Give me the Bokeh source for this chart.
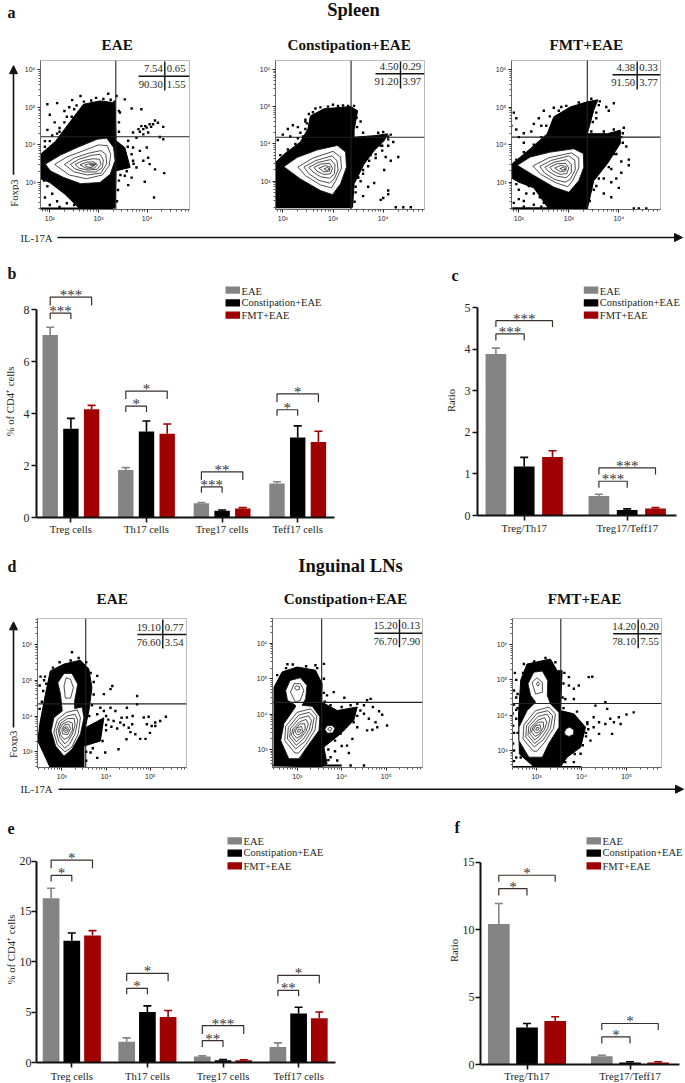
from math import log10, pi
from bokeh.embed import file_html
from bokeh.resources import INLINE
from bokeh.plotting import figure
from bokeh.layouts import column, row
from bokeh.models import (Range1d, Arrow, NormalHead, FixedTicker, Whisker, TeeHead,
                          ColumnDataSource)
from bokeh.core.properties import value

SERIES = ["EAE", "Constipation+EAE", "FMT+EAE"]
COLORS = ["#848484", "#000000", "#a00000"]
SERIF = "Liberation Serif"
SANS = "Liberation Sans"
INK = "#231f20"

# ---------- bar data ----------
B_GROUPS = ["Treg cells", "Th17 cells", "Treg17 cells", "Teff17 cells"]
B_VALUES = [[7.03, 1.83, 0.55, 1.31], [3.42, 3.31, 0.26, 3.08], [4.17, 3.23, 0.35, 2.91]]
B_UPPER = [[7.33, 1.92, 0.58, 1.38], [3.82, 3.72, 0.29, 3.53], [4.32, 3.60, 0.38, 3.32]]
B_BRACKETS = [(0, 0, 1, 7.87, 7.65, "***"), (0, 0, 2, 8.49, 8.17, "***"),
              (1, 0, 1, 4.29, 4.06, "*"), (1, 0, 2, 4.87, 4.56, "*"),
              (2, 0, 1, 1.18, 0.95, "***"), (2, 0, 2, 1.76, 1.44, "**"),
              (3, 0, 1, 4.15, 3.92, "*"), (3, 0, 2, 4.76, 4.44, "*")]

C_GROUPS = ["Treg/Th17", "Treg17/Teff17"]
C_VALUES = [[3.89, 0.47], [1.18, 0.13], [1.41, 0.17]]
C_UPPER = [[4.03, 0.51], [1.40, 0.16], [1.56, 0.19]]
C_BRACKETS = [(0, 0, 1, 4.37, 4.21, "***"), (0, 0, 2, 4.69, 4.54, "***"),
              (1, 0, 1, 0.825, 0.67, "***"), (1, 0, 2, 1.146, 0.986, "***")]

E_VALUES = [[16.3, 2.05, 0.60, 1.55], [12.1, 5.02, 0.23, 4.86], [12.6, 4.53, 0.23, 4.40]]
E_UPPER = [[17.3, 2.45, 0.66, 1.95], [12.86, 5.62, 0.30, 5.49], [13.1, 5.16, 0.28, 5.02]]
E_BRACKETS = [(0, 0, 1, 18.58, 17.98, "*"), (0, 0, 2, 20.1, 19.3, "*"),
              (1, 0, 1, 7.37, 6.78, "*"), (1, 0, 2, 8.86, 8.06, "*"),
              (2, 0, 1, 2.18, 1.55, "**"), (2, 0, 2, 3.67, 2.84, "***"),
              (3, 0, 1, 7.17, 6.58, "**"), (3, 0, 2, 8.66, 7.84, "*")]

F_VALUES = [[10.42, 0.62], [2.75, 0.15], [3.22, 0.15]]
F_UPPER = [[11.93, 0.69], [3.04, 0.20], [3.54, 0.20]]
F_BRACKETS = [(0, 0, 1, 13.04, 12.52, "*"), (0, 0, 2, 14.03, 13.54, "*"),
              (1, 0, 1, 2.05, 1.56, "*"), (1, 0, 2, 3.04, 2.55, "*")]

# ---------- flow cytometry: quadrant percentages ----------
A_PCT = [["7.54", "0.65", "90.30", "1.55"], ["4.50", "0.29", "91.20", "3.97"], ["4.38", "0.33", "91.50", "3.77"]]
D_PCT = [["19.10", "0.77", "76.60", "3.54"], ["15.20", "0.13", "76.70", "7.90"], ["14.20", "0.20", "78.10", "7.55"]]
A_GATES = [(3.355, 4.215), (3.36, 4.18), (3.37, 4.20)]
D_GATES = [(3.54, 4.34), (3.55, 4.33), (3.54, 4.33)]

# flow: dense event regions, single events (log10 units), density contours
A1_CLOUD = [(2.6,2.32),(2.3,2.7),(2.0,3.0),(1.81,3.1),(1.81,3.75),(2.12,4.1),(2.35,4.5),(2.69,5.08),(3.03,5.17),(3.34,5.12),(3.36,4.11),(3.54,3.93),(3.65,3.4),(3.36,3.31),(3.34,2.32)]
A1_DOTS = [(3.71,4.33),(3.82,4.42),(3.88,4.5),(3.99,4.46),(4.05,4.55),(4.16,4.65),(4.22,4.59),(4.33,4.48),(3.78,4.19),(3.92,4.28),(4.02,4.33),(4.26,4.21),(4.33,4.15),
           (3.92,4.42),(3.96,4.5),(4.08,4.48),(4.12,4.55),(3.85,4.35),(3.54,5.21),(3.68,4.97),(3.88,4.95),(3.44,4.86),(3.61,4.11),(3.71,3.93),(3.85,3.84),(3.99,3.93),(4.02,3.66),(3.92,3.58),(3.71,3.58),(3.78,3.4),(4.05,3.49),(4.16,3.35),(4.35,3.25),(3.54,3.18),(3.68,3.13),(3.61,2.93),(3.95,3.02),(4.14,2.6),
           (1.95,5.08),(2.15,5.11),(2.46,5.19),(2.63,5.3),(3.2,5.36),(3.37,5.3),(2.0,4.8),(2.1,4.6),(1.95,4.4),(2.2,4.35),(2.3,4.9),(2.4,5.0),(1.9,4.1),
           (1.95,2.9),(2.05,2.7),(2.15,2.5),(2.25,2.8),(2.35,2.45),(2.45,2.6),(2.2,2.35),(2.0,2.4),(1.9,2.6),(2.5,2.4),(2.1,2.95),
           (1.9,3.95),(2.0,4.1),(2.05,4.25),(2.15,4.3),(2.2,4.45),(2.3,4.6),(2.35,4.75),(2.45,4.75),(2.5,4.95),(2.55,5.05),(2.7,5.15),(2.85,5.18),(2.95,5.25),(3.1,5.22),(3.25,5.2),(3.33,5.15),(3.42,4.9),(3.42,4.6),(3.42,4.35),(3.6,3.95),(3.68,3.75),(3.72,3.5),(3.58,3.3),(3.45,3.2),(3.42,3.05),(3.4,2.8),(3.38,2.5),(2.55,2.5),(2.4,2.7),(2.2,2.85),(2.0,3.05),(1.88,3.05)]
A1_CONTOURS = [[(1.91,3.49),(2.22,3.73),(2.56,3.93),(2.97,4.15),(3.17,4.18),(3.31,3.93),(3.34,3.58),(3.24,3.22),(3.03,3.0),(2.63,2.97),(2.29,3.13),(2.01,3.31)],
               [(2.1,3.48),(2.35,3.68),(2.7,3.85),(3.0,4.0),(3.18,3.98),(3.25,3.75),(3.22,3.45),(3.08,3.2),(2.75,3.1),(2.4,3.2)],
               [(2.3,3.48),(2.5,3.65),(2.8,3.78),(3.05,3.85),(3.15,3.75),(3.17,3.5),(3.05,3.25),(2.78,3.2),(2.5,3.28)],
               [(2.42,3.48),(2.6,3.62),(2.85,3.72),(3.03,3.75),(3.1,3.6),(3.08,3.4),(2.95,3.28),(2.72,3.28),(2.52,3.36)],
               [(2.52,3.48),(2.68,3.58),(2.88,3.63),(3.02,3.62),(3.05,3.48),(2.97,3.35),(2.78,3.33),(2.6,3.38)],
               [(2.62,3.47),(2.75,3.54),(2.9,3.55),(2.98,3.48),(2.92,3.38),(2.75,3.38)],
               [(2.72,3.47),(2.82,3.5),(2.92,3.47),(2.85,3.4),(2.75,3.42)],
               [(2.82,3.48),(2.88,3.5),(2.95,3.49),(2.9,3.44),(2.84,3.45)]]
A2_CLOUD = [(1.85,2.3),(1.85,3.5),(2.05,3.75),(2.35,4.05),(2.5,4.4),(2.55,4.75),(2.82,4.94),(3.35,5.0),(3.49,4.89),(3.42,4.36),(3.42,4.18),(3.82,4.22),(4.09,4.27),(4.02,4.09),(3.82,3.82),(3.62,3.46),(3.42,2.93),(3.39,2.3)]
A2_DOTS = [(2.1,4.4),(2.2,4.5),(2.3,4.45),(2.35,4.3),(2.15,4.2),(2.45,4.65),(2.48,4.55),(2.3,4.15),(2.0,4.25),(1.9,4.1),(2.6,4.85),(2.75,4.98),(3.0,5.05),(3.2,5.03),(3.3,5.02),
           (3.75,3.7),(3.85,3.62),(3.7,3.4),(3.6,3.2),(3.55,3.0),(3.7,2.85),(3.98,3.82),(4.05,3.65),(4.15,3.55),(4.3,3.65),(4.02,3.3),(4.1,2.75),(4.1,2.65),(3.95,2.5),(3.45,2.85),(3.5,3.1),(4.1,4.2),(4.15,4.25),(4.2,4.05),(4.1,3.95),(3.95,3.95),(3.55,4.6),(3.82,2.95),(3.6,2.6),(4.0,2.55),(4.25,2.3),(4.4,2.3),(4.55,2.3),
           (1.95,3.7),(2.1,3.85),(2.25,4.0),(2.4,4.2),(2.45,4.4),(2.45,4.6),(2.52,4.8),(2.65,4.95),(2.9,5.0),(3.1,5.02),(3.42,5.02),(3.47,4.7),(3.48,4.45),(3.6,4.3),(3.9,4.3),(4.0,4.32),(4.1,4.12),(3.98,3.95),(3.85,3.72),(3.72,3.55),(3.6,3.3),(3.5,3.1),(3.45,2.7),(3.43,2.45)]
A2_CONTOURS = [[(2.02,3.39),(2.29,3.64),(2.69,3.84),(3.09,3.96),(3.25,3.78),(3.27,3.38),(3.15,2.93),(2.99,2.64),(2.75,2.75),(2.35,3.06)],
               [(2.3,3.38),(2.6,3.62),(3.0,3.8),(3.15,3.65),(3.17,3.35),(3.05,3.0),(2.97,2.82),(2.75,2.9),(2.45,3.15)],
               [(2.42,3.38),(2.65,3.55),(2.98,3.68),(3.08,3.55),(3.1,3.3),(3.02,3.05),(2.93,2.95),(2.72,3.02),(2.52,3.2)],
               [(2.52,3.37),(2.7,3.5),(2.95,3.58),(3.04,3.45),(3.03,3.2),(2.93,3.08),(2.75,3.12),(2.6,3.25)],
               [(2.62,3.37),(2.76,3.46),(2.93,3.48),(2.99,3.35),(2.95,3.2),(2.82,3.18),(2.68,3.27)],
               [(2.72,3.35),(2.85,3.42),(2.94,3.38),(2.93,3.27),(2.82,3.25)],
               [(2.82,3.33),(2.89,3.37),(2.93,3.32),(2.87,3.29)]]
A3_CLOUD = [(2.6,2.29),(2.3,2.85),(2.0,3.0),(1.87,3.1),(1.87,3.49),(2.23,3.89),(2.57,4.29),(2.7,4.74),(3.03,5.0),(3.37,5.14),(3.58,5.19),(3.5,4.92),(3.37,4.29),(3.77,4.29),(4.03,4.38),(4.03,4.03),(3.77,3.49),(3.5,3.04),(3.37,2.29)]
A3_DOTS = [(1.95,4.4),(2.0,4.2),(2.1,4.3),(2.25,4.35),(2.3,4.55),(2.4,4.7),(2.45,4.5),(2.5,4.9),(2.7,4.98),(2.85,5.0),(2.1,4.05),(1.9,4.85),(1.95,4.7),(1.85,4.5),
           (3.6,5.05),(3.75,5.0),(3.8,4.9),(3.9,5.1),(3.55,4.7),(4.0,4.35),(4.1,4.45),(4.05,4.2),(4.15,3.95),(3.95,3.75),(4.05,3.55),(4.2,3.45),(3.85,3.35),(3.7,3.1),(3.85,3.0),(3.95,3.1),(3.55,2.9),(3.7,2.7),(3.85,2.6),(4.0,2.85),(4.05,3.25),(4.2,3.6),(4.3,2.3),(4.4,2.3),(4.55,2.3),
           (2.0,2.8),(2.1,2.5),(2.3,2.7),(2.5,2.45),(2.2,2.9),(2.7,2.55),(3.0,2.5),(1.9,2.45),(2.0,2.55),(2.15,2.7),(2.3,2.4),(2.42,2.6),(2.6,2.4),(1.95,2.95),(2.1,2.35),(2.45,2.35),
           (1.95,3.6),(2.1,3.8),(2.3,4.0),(2.45,4.2),(2.55,4.5),(2.62,4.75),(2.8,4.9),(2.95,5.03),(3.2,5.12),(3.45,5.22),(3.62,5.15),(3.55,4.85),(3.48,4.6),(3.45,4.35),(3.7,4.35),(3.9,4.4),(4.08,4.3),(4.08,4.05),(3.9,3.75),(3.8,3.4),(3.6,3.1),(3.5,2.8),(3.42,2.5)]
A3_CONTOURS = [[(1.97,3.45),(2.23,3.67),(2.63,3.8),(3.1,3.89),(3.29,3.76),(3.3,3.4),(3.2,3.04),(3.0,2.73),(2.7,2.87),(2.3,3.18)],
               [(2.28,3.43),(2.6,3.65),(3.05,3.78),(3.2,3.65),(3.2,3.38),(3.08,3.05),(2.98,2.88),(2.75,2.98),(2.45,3.2)],
               [(2.42,3.42),(2.65,3.58),(3.0,3.7),(3.12,3.58),(3.13,3.33),(3.03,3.08),(2.93,3.0),(2.72,3.07),(2.52,3.24)],
               [(2.52,3.4),(2.7,3.53),(2.96,3.6),(3.05,3.48),(3.05,3.25),(2.95,3.12),(2.76,3.16),(2.6,3.28)],
               [(2.62,3.4),(2.76,3.49),(2.94,3.5),(3.0,3.38),(2.96,3.23),(2.83,3.21),(2.68,3.3)],
               [(2.72,3.38),(2.85,3.45),(2.95,3.41),(2.94,3.3),(2.83,3.28)],
               [(2.82,3.36),(2.89,3.4),(2.94,3.35),(2.87,3.32)]]
D1_CLOUD = [(2.74,2.55),(2.46,3.3),(2.5,3.76),(2.63,4.6),(2.74,5.26),(3.05,5.45),(3.42,5.56),(3.61,5.31),(3.68,4.79),(3.61,4.14),(3.53,3.67),(3.95,3.95),(3.87,3.3),(3.5,3.16),(3.5,2.55)]
D1_DOTS = [(3.87,4.23),(3.95,4.14),(4.1,4.23),(4.21,4.14),(4.47,4.23),(4.7,4.56),(4.7,4.33),(4.14,4.84),(4.1,4.75),(3.95,4.61),(3.8,5.12),(3.23,5.78),
           (4.17,3.86),(4.32,3.82),(4.47,3.96),(4.59,3.77),(4.66,3.49),(4.51,3.67),(4.85,3.96),(4.96,3.98),(4.92,3.77),(5.11,3.82),(5.22,3.86),(5.35,3.98),(5.03,3.72),(5.11,3.72),(4.77,3.36),(4.89,3.36),(4.99,3.53),(4.46,3.35),(4.28,3.07),(3.8,2.83),(3.98,2.98),(3.65,2.98),
           (4.05,3.9),(4.0,3.75),(4.12,3.7),(4.25,3.65),(4.35,3.95),(4.4,3.75),(4.55,3.55),(4.6,4.0),(2.52,5.1),(2.6,5.0),(2.5,4.85),(2.65,4.9),(2.55,4.4),(2.62,4.2),
           (2.5,4.2),(2.58,4.7),(2.62,5.1),(2.8,5.35),(2.95,5.5),(3.2,5.55),(3.38,5.62),(3.55,5.5),(3.65,5.2),(3.72,4.95),(3.72,4.6),(3.68,4.3),(3.62,4.0),(3.8,4.05),(4.0,4.0),(4.0,3.6),(3.92,3.3),(3.7,3.1),(3.55,3.0),(3.55,2.75)]
D1_CONTOURS = [[(3.05,2.88),(2.86,3.16),(2.76,3.58),(2.82,3.95),(3.01,4.14),(2.97,4.61),(2.91,4.93),(3.05,5.19),(3.23,5.19),(3.36,4.89),(3.29,4.42),(3.29,4.21),(3.46,4.25),(3.5,3.95),(3.42,3.49),(3.23,3.07)],
               [(3.05,4.84),(3.1,5.07),(3.2,5.02),(3.26,4.79),(3.2,4.5),(3.08,4.5)],
               [(3.07,3.0),(2.9,3.2),(2.82,3.55),(2.9,3.9),(3.1,4.1),(3.35,4.17),(3.42,3.95),(3.37,3.5),(3.22,3.12)],
               [(3.07,3.1),(2.93,3.3),(2.87,3.58),(2.95,3.85),(3.12,4.0),(3.3,4.05),(3.36,3.88),(3.3,3.5),(3.18,3.22)],
               [(3.07,3.22),(2.96,3.4),(2.92,3.6),(2.98,3.8),(3.13,3.93),(3.28,3.93),(3.3,3.75),(3.24,3.5),(3.15,3.32)],
               [(3.05,3.35),(2.97,3.48),(2.95,3.62),(3.02,3.78),(3.15,3.85),(3.24,3.8),(3.24,3.6),(3.15,3.4)],
               [(3.02,3.5),(3.0,3.62),(3.06,3.75),(3.15,3.77),(3.2,3.65),(3.13,3.48)],
               [(3.04,3.58),(3.05,3.68),(3.12,3.7),(3.16,3.62),(3.1,3.53)],
               [(3.06,3.62),(3.09,3.66),(3.13,3.62),(3.09,3.59)]]
D2_CLOUD = [(2.48,2.55),(2.48,4.76),(2.66,5.19),(3.0,5.33),(3.41,5.24),(3.56,4.86),(3.55,4.34),(3.9,4.1),(4.35,4.2),(4.27,3.82),(3.97,3.44),(3.6,3.07),(3.67,2.59),(3.52,2.5)]
D2_DOTS = [(3.6,5.42),(3.41,5.38),(2.78,5.41),(3.82,4.62),(3.67,4.53),(4.06,4.46),(4.65,4.43),(4.57,4.39),(4.35,4.29),(4.84,4.08),(4.91,3.98),(4.5,4.01),(4.61,3.87),(4.76,3.77),(4.57,3.54),(4.69,3.56),(5.02,3.68),(4.8,3.63),(4.35,3.63),(4.24,3.3),(4.12,3.11),(4.16,2.9),(3.9,2.69),(4.5,2.55),(4.2,2.55),(3.97,3.44),(3.75,2.78),(3.56,2.59),(4.05,3.58),(4.27,3.77),(4.42,4.1),(4.5,4.25),(4.7,4.2),(4.0,3.1),(3.85,2.95),
           (2.55,5.1),(2.75,5.3),(2.9,5.4),(3.2,5.35),(3.45,5.3),(3.6,5.0),(3.6,4.6),(3.62,4.35),(3.75,4.25),(4.0,4.2),(4.2,4.25),(4.35,3.95),(4.1,3.65),(3.85,3.25),(3.7,3.0),(3.7,2.7)]
D2_CONTOURS = [[(2.74,4.67),(2.84,4.95),(3.07,5.03),(3.22,4.81),(3.19,4.43),(3.11,4.25),(3.34,4.22),(3.51,3.92),(3.49,3.54),(3.22,3.07),(3.04,2.74),(2.81,2.74),(2.63,3.25),(2.7,3.73),(2.96,4.2),(2.96,4.25),(2.78,4.39)],
               [(2.85,4.62),(2.93,4.86),(3.07,4.86),(3.15,4.67),(3.07,4.39),(2.96,4.34)],
               [(2.94,4.74),(2.98,4.8),(3.05,4.78),(3.05,4.7),(2.98,4.68)],
               [(2.95,2.9),(2.72,3.25),(2.74,3.65),(3.0,4.05),(3.3,4.15),(3.44,3.95),(3.4,3.55),(3.2,3.15),(3.03,2.9)],
               [(2.97,3.02),(2.78,3.3),(2.8,3.62),(3.03,3.97),(3.27,4.05),(3.38,3.9),(3.33,3.55),(3.17,3.22)],
               [(2.98,3.12),(2.83,3.35),(2.85,3.6),(3.05,3.88),(3.25,3.95),(3.32,3.82),(3.27,3.55),(3.13,3.28)],
               [(2.98,3.22),(2.87,3.4),(2.9,3.58),(3.05,3.78),(3.2,3.85),(3.25,3.72),(3.2,3.52),(3.08,3.32)],
               [(2.99,3.32),(2.91,3.44),(2.94,3.58),(3.06,3.72),(3.17,3.73),(3.18,3.58),(3.08,3.38)],
               [(3.0,3.42),(2.95,3.5),(3.0,3.62),(3.1,3.65),(3.12,3.52),(3.05,3.42)],
               [(3.0,3.5),(3.03,3.58),(3.08,3.56),(3.05,3.49)]]
D2_SMALL = [[(3.62,3.57),(3.67,3.67),(3.78,3.68),(3.85,3.6),(3.8,3.47),(3.68,3.46)],
            [(3.68,3.57),(3.73,3.63),(3.78,3.6),(3.75,3.52)]]
D3_CLOUD = [(2.95,2.53),(2.62,2.9),(2.6,4.0),(2.65,5.0),(2.79,5.45),(3.31,5.59),(3.46,5.26),(3.57,5.26),(3.53,4.13),(3.83,4.04),(4.09,3.66),(3.98,3.09),(3.68,2.81),(3.53,2.53)]
D3_DOTS = [(3.72,5.08),(3.94,4.84),(3.72,4.84),(3.83,4.75),(4.16,5.08),(4.24,5.09),(3.64,4.46),(3.83,4.46),(4.53,4.37),(4.31,4.27),(4.57,4.18),(5.16,4.08),(5.0,4.02),(4.83,3.94),(4.64,3.9),(4.87,3.75),(4.72,3.8),(4.53,3.75),(4.39,3.8),(4.27,3.94),(4.27,3.66),(4.68,3.47),(4.39,3.47),(4.2,3.28),(4.13,3.75),(3.98,2.91),(3.83,2.67),(3.64,2.67),
           (2.55,5.0),(2.5,4.7),(2.5,4.3),(2.55,4.5),(2.55,3.9),(2.5,3.0),(2.55,2.8),(2.5,3.5),(2.52,5.2),(2.48,3.2),(2.5,2.7),(2.55,4.15),(2.47,4.05),(2.48,3.7),(2.9,2.7),(3.8,3.0),(4.15,3.6),(4.1,3.4),
           (2.7,5.2),(2.72,5.45),(2.95,5.52),(3.2,5.62),(3.42,5.5),(3.62,5.2),(3.6,4.9),(3.58,4.5),(3.6,4.2),(3.9,4.1),(4.13,3.8),(4.1,3.5),(4.03,3.15),(3.85,2.9),(3.6,2.7),(2.58,4.6),(2.58,4.2),(2.58,3.5),(2.65,2.8)]
D3_CONTOURS = [[(2.81,4.89),(2.94,5.22),(3.13,5.25),(3.25,4.98),(3.24,4.56),(3.31,4.32),(3.5,4.08),(3.5,3.66),(3.27,3.19),(3.13,2.81),(2.83,2.81),(2.61,3.28),(2.61,3.66),(2.79,4.13),(2.98,4.37),(2.87,4.56)],
               [(2.9,4.93),(3.01,5.06),(3.13,4.93),(3.13,4.65),(2.98,4.6)],
               [(3.0,4.88),(3.03,4.95),(3.07,4.9),(3.03,4.82)],
               [(2.93,2.98),(2.7,3.33),(2.72,3.73),(2.98,4.13),(3.28,4.23),(3.42,4.03),(3.38,3.63),(3.18,3.23),(3.01,2.98)],
               [(2.95,3.1),(2.76,3.38),(2.78,3.7),(3.01,4.05),(3.25,4.13),(3.36,3.98),(3.31,3.63),(3.15,3.3)],
               [(2.96,3.2),(2.81,3.43),(2.83,3.68),(3.03,3.96),(3.23,4.03),(3.3,3.9),(3.25,3.63),(3.11,3.36)],
               [(2.96,3.3),(2.85,3.48),(2.88,3.66),(3.03,3.86),(3.18,3.93),(3.23,3.8),(3.18,3.6),(3.06,3.4)],
               [(2.97,3.4),(2.89,3.52),(2.92,3.66),(3.04,3.8),(3.15,3.81),(3.16,3.66),(3.06,3.46)],
               [(2.98,3.5),(2.93,3.58),(2.98,3.7),(3.08,3.73),(3.1,3.6),(3.03,3.5)],
               [(2.98,3.58),(3.01,3.66),(3.06,3.64),(3.03,3.57)]]
D3_SMALL = [[(3.62,3.52),(3.66,3.62),(3.74,3.66),(3.83,3.58),(3.82,3.45),(3.72,3.4),(3.64,3.44)]]


def text_fig(x0, x1, y0, y1, texts, arrow=None):
    """A strip of the page for headings and side labels; its coordinates are page pixels."""
    p = figure(width=x1 - x0, height=y1 - y0, x_range=Range1d(x0, x1), y_range=Range1d(y1, y0),
               x_axis_location=None, y_axis_location=None, toolbar_location=None,
               output_backend="svg", min_border=0, outline_line_color=None)
    p.xgrid.visible = False
    p.ygrid.visible = False
    for (t, x, y, size, bold, align, ang) in texts:
        p.text([x], [y], text=[t], text_font=value(SERIF), text_font_size=f"{size}px",
               text_font_style="bold" if bold else "normal", text_align=align, angle=ang,
               text_baseline="middle", text_color=INK if not bold else "#111111")
    if arrow:
        ax0, ay0, ax1, ay1 = arrow
        p.add_layout(Arrow(x_start=ax0, y_start=ay0, x_end=ax1, y_end=ay1, line_width=1.6, line_color="#111111",
                           end=NormalHead(size=8, fill_color="#111111", line_color="#111111")))
    return p


def closed(points):
    return [q[0] for q in points] + [points[0][0]], [q[1] for q in points] + [points[0][1]]


def flow_panel(canvas, frame, xt, xdec, yt, ydec, gates, pct, table, cloud, dots, contours,
               xmajor, small=(), band=None):
    cx0, cx1, cy0, cy1 = canvas
    fx0, fx1, fy0, fy1 = frame
    xpx, xlog = xt
    ypx, ylog = yt
    lx = lambda px: xlog + (px - xpx) / xdec
    ly = lambda py: ylog + (ypx - py) / ydec
    p = figure(frame_width=fx1 - fx0, frame_height=fy1 - fy0,
               x_range=Range1d(lx(fx0), lx(fx1)), y_range=Range1d(ly(fy1), ly(fy0)),
               toolbar_location=None, output_backend="svg",
               min_border_left=fx0 - cx0, min_border_right=cx1 - fx1,
               min_border_top=fy0 - cy0, min_border_bottom=cy1 - fy1,
               outline_line_color="#bbbbbb", outline_line_width=1)
    p.grid.visible = False
    sup = {2: "10²", 3: "10³", 4: "10⁴", 5: "10⁵", 6: "10⁶"}
    ymajor = [3, 4, 5, 6]
    for ax, major in ((p.xaxis[0], xmajor), (p.yaxis[0], ymajor)):
        minor = [k + log10(m) for k in range(1, 7) for m in range(2, 10)]
        ax.ticker = FixedTicker(ticks=major, minor_ticks=minor)
        ax.major_label_overrides = {m: sup[m] for m in major}
        ax.major_label_text_font = SANS
        ax.major_label_text_font_size = "7px"
        ax.major_label_text_color = "#222222"
        ax.major_tick_out = 3
        ax.major_tick_in = 0
        ax.minor_tick_out = 2
        ax.minor_tick_in = 0
        ax.major_tick_line_color = "#222222"
        ax.minor_tick_line_color = "#555555"
        ax.axis_line_color = "#666666"
        ax.major_label_standoff = 2
    p.yaxis[0].major_label_orientation = "horizontal"

    xs, ys = closed(cloud)
    p.patch(xs, ys, fill_color="#000000", line_color="#000000", line_width=1)
    p.scatter([d[0] for d in dots], [d[1] for d in dots], marker="square", size=2.4,
              fill_color="#000000", line_color=None)
    if band:
        p.segment([band[0]], [band[2]], [band[1]], [band[2]], line_color="#000000", line_width=2)
    outer_x, outer_y = closed(contours[0])
    p.patch(outer_x, outer_y, fill_color="#ffffff", line_color="#111111", line_width=0.9)
    rings = [closed(c) for c in contours[1:]]
    p.multi_line([r[0] for r in rings], [r[1] for r in rings], line_color="#222222", line_width=0.8)
    if small:
        sx, sy = closed(small[0])
        p.patch(sx, sy, fill_color="#ffffff", line_color="#111111", line_width=0.8)
        if len(small) > 1:
            sx, sy = closed(small[1])
            p.line(sx, sy, line_color="#222222", line_width=0.8)

    gx, gy = gates
    p.line([gx, gx], [ly(fy1), ly(fy0)], line_color="#222222", line_width=1.1)
    p.line([lx(fx0), lx(fx1)], [gy, gy], line_color="#222222", line_width=1.1)

    dvx, hly, hx0, vend = table
    p.line([lx(dvx), lx(dvx)], [ly(fy0 + 1), ly(vend)], line_color="#111111", line_width=1.4)
    p.line([lx(hx0), lx(fx1)], [ly(hly), ly(hly)], line_color="#111111", line_width=1.4)
    for i, t in enumerate(pct):
        right = i % 2 == 1
        lower = i >= 2
        p.text([lx(dvx + (2 if right else -2))], [ly(hly + (8 if lower else -7.5))], text=[t],
               text_font=value(SERIF), text_font_size="10.7px", text_color=INK,
               text_align="left" if right else "right", text_baseline="middle")
    return p


def bar_panel(canvas, frame, y0px, unit, ymax, yticks, c0, step, bar_step, bar_w, axis_end,
              groups, vals, ups, brackets, legend_x, legend_ys, ylabel, standoffs):
    cx0, cx1, cy0, cy1 = canvas
    fx0, fx1, fy0, fy1 = frame
    gx = lambda px: (px - c0) / step
    gy = lambda py: (y0px - py) / unit
    p = figure(frame_width=fx1 - fx0, frame_height=fy1 - fy0,
               x_range=Range1d(gx(fx0), gx(fx1)), y_range=Range1d(0, gy(fy0)),
               toolbar_location=None, output_backend="svg",
               min_border_left=fx0 - cx0, min_border_right=cx1 - fx1,
               min_border_top=fy0 - cy0, min_border_bottom=cy1 - fy1,
               outline_line_color=None)
    p.grid.visible = False
    off = bar_step / step
    for s, name in enumerate(SERIES):
        xs = [g + (s - 1) * off for g in range(len(groups))]
        p.vbar(x=xs, top=vals[s], bottom=0, width=bar_w / step, fill_color=COLORS[s], line_color=None)
        src = ColumnDataSource(dict(x=xs, lo=vals[s], up=ups[s]))
        p.add_layout(Whisker(source=src, base="x", lower="lo", upper="up", line_color=COLORS[s], line_width=1.6,
                             upper_head=TeeHead(size=8, line_color=COLORS[s], line_width=1.6), lower_head=None))
    for (g, a, b, top, leg, stars) in brackets:
        xa = g + (a - 1) * off
        xb = g + (b - 1) * off
        p.line([xa, xa, xb, xb], [leg, top, top, leg], line_color="#3a2e2e", line_width=1.2)
        p.text([(xa + xb) / 2], [top], text=[stars], text_font=value(SERIF), text_font_size="15px",
               text_align="center", text_baseline="alphabetic", y_offset=-2, text_color="#333333")
    xa = p.xaxis[0]
    xa.ticker = FixedTicker(ticks=list(range(len(groups))), minor_ticks=[])
    xa.major_label_overrides = {i: g for i, g in enumerate(groups)}
    xa.bounds = (gx(fx0), gx(axis_end))
    ya = p.yaxis[0]
    ya.ticker = FixedTicker(ticks=yticks, minor_ticks=[])
    ya.major_label_overrides = {t: str(t) for t in yticks}
    ya.bounds = (0, ymax)
    ya.axis_label = ylabel
    ya.axis_label_text_font = SERIF
    ya.axis_label_text_font_style = "normal"
    ya.axis_label_text_font_size = "10.7px"
    ya.axis_label_text_color = INK
    ya.axis_label_standoff = standoffs[0]
    for ax, fs, st in ((xa, "10.7px", standoffs[2]), (ya, "12px", standoffs[1])):
        ax.axis_line_width = 2
        ax.axis_line_color = "#111111"
        ax.major_tick_line_width = 1.6
        ax.major_tick_line_color = "#111111"
        ax.major_tick_in = 0
        ax.major_tick_out = 5
        ax.minor_tick_out = 0
        ax.minor_tick_in = 0
        ax.major_label_text_font = SERIF
        ax.major_label_text_font_size = fs
        ax.major_label_text_color = INK
        ax.major_label_standoff = st
    ya.major_label_orientation = "horizontal"
    for name, col, ytop, ytxt in zip(SERIES, COLORS, legend_ys[0], legend_ys[1]):
        p.quad(left=[gx(legend_x)], right=[gx(legend_x + 14.5)], top=[gy(ytop)], bottom=[gy(ytop + 7.3)],
               fill_color=col, line_color=None)
        p.text([gx(legend_x + 16)], [gy(ytxt)], text=[name], text_font=value(SERIF), text_font_size="10.5px",
               text_baseline="middle", text_color=INK)
    return p


B = True
N = False
strip1 = text_fig(0, 685, 0, 56, [("a", 7, 12, 16, B, "left", 0), ("Spleen", 353, 9, 18.5, B, "center", 0),
                                  ("EAE", 116.7, 44, 15.2, B, "center", 0),
                                  ("Constipation+EAE", 348.7, 44, 15.2, B, "center", 0),
                                  ("FMT+EAE", 585.8, 44, 15.2, B, "center", 0)])
side_a = text_fig(0, 19, 56, 228, [("Foxp3", 13, 209, 10.7, N, "center", pi / 2)], arrow=(13, 188, 13, 62))
a1 = flow_panel((19, 240, 56, 228), (40, 189, 60, 209), (49.3, 2), 48.7, (182, 3), 37.6, A_GATES[0], A_PCT[0],
                (164.3, 75.7, 138, 90), A1_CLOUD, A1_DOTS, A1_CONTOURS, [2, 3, 4], band=(1.82, 3.3, 2.31))
a2 = flow_panel((240, 475, 56, 228), (275, 424, 60, 209), (282.3, 2), 50.2, (180.7, 3), 37.3, A_GATES[1], A_PCT[1],
                (400, 73.3, 375, 88), A2_CLOUD, A2_DOTS, A2_CONTOURS, [2, 3, 4], band=(1.85, 3.35, 2.3))
a3 = flow_panel((475, 685, 56, 228), (511, 660, 60, 209), (518.3, 2), 50, (181.7, 3), 37.6, A_GATES[2], A_PCT[2],
                (636.7, 74.3, 612, 89), A3_CLOUD, A3_DOTS, A3_CONTOURS, [2, 3, 4], band=(1.87, 3.35, 2.31))
strip2 = text_fig(0, 685, 228, 285, [("IL-17A", 20, 237, 10.7, N, "left", 0), ("b", 7, 273, 16, B, "left", 0),
                                     ("c", 451, 275, 16, B, "left", 0)], arrow=(57, 237, 682, 237))

pb = bar_panel((0, 420, 285, 538), (36, 420, 285, 517), 517, 25.96, 8, [0, 2, 4, 6, 8], 70.4, 75.6, 20.7, 15.4, 334,
               B_GROUPS, B_VALUES, B_UPPER, B_BRACKETS, 225, ((286, 298.7, 311), (291, 301.7, 315.3)), "% of CD4⁺ cells", (5, 2, 0))
pc = bar_panel((420, 685, 285, 538), (477, 685, 285, 515), 515, 41.54, 5, [0, 1, 2, 3, 4, 5], 523.7, 103, 28.3, 20.7, 676,
               C_GROUPS, C_VALUES, C_UPPER, C_BRACKETS, 583.3, ((286, 298.7, 311), (291, 301.7, 315.3)), "Ratio", (5, 2, 1))

strip3 = text_fig(0, 685, 538, 610, [("d", 7, 566, 16, B, "left", 0), ("Inguinal LNs", 350, 565, 18.5, B, "center", 0),
                                     ("EAE", 111.7, 598, 15.2, B, "center", 0),
                                     ("Constipation+EAE", 345, 598, 15.2, B, "center", 0),
                                     ("FMT+EAE", 584, 598, 15.2, B, "center", 0)])
side_d = text_fig(0, 18, 610, 783, [("Foxp3", 12.5, 760, 10.7, N, "center", pi / 2)], arrow=(13, 740, 13, 614))
d1 = flow_panel((18, 240, 610, 783), (37, 186, 614, 763), (61.3, 3), 44.3, (747.3, 3), 35.8, D_GATES[0], D_PCT[0],
                (162.3, 630, 137, 644), D1_CLOUD, D1_DOTS, D1_CONTOURS, [3, 4, 5], band=(2.46, 3.85, 2.55))
d2 = flow_panel((240, 475, 610, 783), (272, 422, 618, 767), (296.7, 3), 44.5, (749, 3), 35.4, D_GATES[1], D_PCT[1],
                (399, 632.7, 374, 646.7), D2_CLOUD, D2_DOTS, D2_CONTOURS, [3, 4, 5], small=D2_SMALL, band=(2.46, 4.0, 2.55))
d3 = flow_panel((475, 685, 610, 783), (512, 661, 618, 767), (536, 3), 45, (750, 3), 35.3, D_GATES[2], D_PCT[2],
                (637.7, 633.3, 612.7, 647.7), D3_CLOUD, D3_DOTS, D3_CONTOURS, [3, 4, 5], small=D3_SMALL, band=(2.46, 4.0, 2.53))
strip4 = text_fig(0, 685, 783, 836, [("IL-17A", 20, 788.7, 10.7, N, "left", 0), ("e", 7, 828, 16, B, "left", 0),
                                     ("f", 454, 827, 16, B, "left", 0)], arrow=(58, 788.7, 683, 788.7))

pe = bar_panel((0, 420, 836, 1083), (36, 420, 836, 1062), 1062, 10.07, 20, [0, 5, 10, 15, 20], 71.3, 75.6, 20.7, 16.7, 335,
               B_GROUPS, E_VALUES, E_UPPER, E_BRACKETS, 227, ((836.7, 849, 861.7), (841.3, 852, 865.7)), "% of CD4⁺ cells", (0, 0, 2))
pf = bar_panel((420, 685, 836, 1083), (480, 685, 836, 1064), 1064, 13.49, 15, [0, 5, 10, 15], 526.5, 103, 28.2, 21.7, 679,
               C_GROUPS, F_VALUES, F_UPPER, F_BRACKETS, 586, ((836.7, 849, 861.7), (841.3, 852, 865.7)), "Ratio", (0, 1, 0))

page = column(strip1, row(side_a, a1, a2, a3, spacing=0), strip2,
              row(pb, pc, spacing=0), strip3,
              row(side_d, d1, d2, d3, spacing=0), strip4,
              row(pe, pf, spacing=0), spacing=0)

open("out.html", "w").write(file_html(page, INLINE))
